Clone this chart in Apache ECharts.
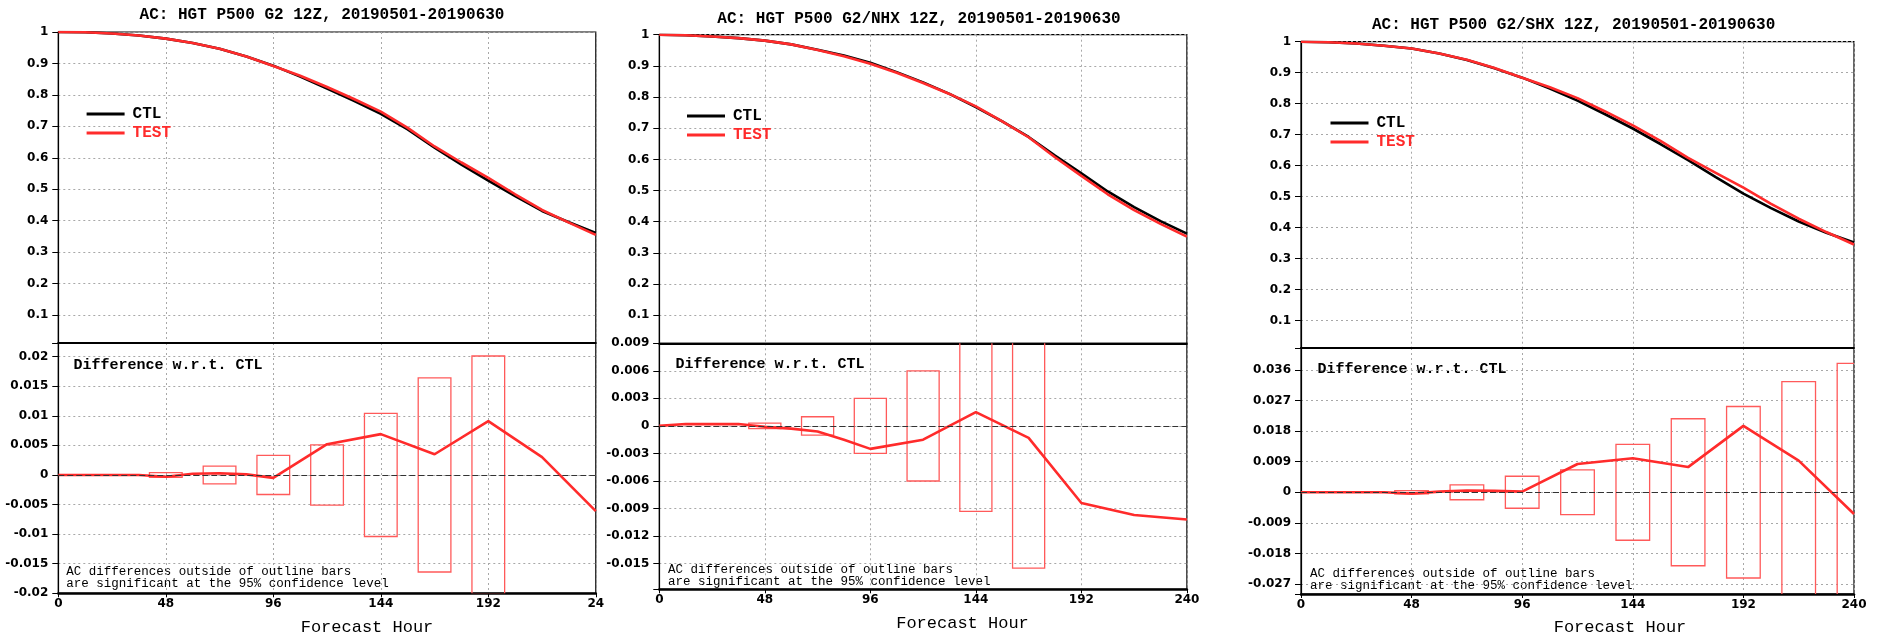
<!DOCTYPE html>
<html>
<head>
<meta charset="utf-8">
<script src="https://cdn.jsdelivr.net/npm/echarts@6/dist/echarts.min.js"></script>
<style>html,body{margin:0;padding:0;background:#fff}#c{width:1878px;height:635px}</style>
</head>
<body>
<div id="c"></div>
<script>
// ---------------- data ----------------
const titleG2  = 'AC: HGT P500 G2 12Z, 20190501-20190630';
const titleNHX = 'AC: HGT P500 G2/NHX 12Z, 20190501-20190630';
const titleSHX = 'AC: HGT P500 G2/SHX 12Z, 20190501-20190630';

const xTickValues = [0, 48, 96, 144, 192, 240];
const xLabelsG2  = ['0', '48', '96', '144', '192', '24'];
const xLabelsNHX = ['0', '48', '96', '144', '192', '240'];
const xLabelsSHX = ['0', '48', '96', '144', '192', '240'];

const acHours = [0, 12, 24, 36, 48, 60, 72, 84, 96, 108, 120, 132, 144, 156, 168, 180, 192, 204, 216, 228, 240];
const ctlG2   = [1.000, 0.999, 0.995, 0.989, 0.979, 0.965, 0.947, 0.922, 0.893, 0.858, 0.820, 0.781, 0.740, 0.690, 0.632, 0.578, 0.527, 0.478, 0.431, 0.395, 0.361];
const testG2  = [1.000, 0.999, 0.995, 0.989, 0.979, 0.965, 0.947, 0.922, 0.892, 0.861, 0.825, 0.787, 0.747, 0.695, 0.636, 0.585, 0.536, 0.484, 0.434, 0.394, 0.355];
const ctlNHX  = [1.000, 0.998, 0.994, 0.989, 0.981, 0.969, 0.952, 0.933, 0.910, 0.880, 0.847, 0.810, 0.768, 0.722, 0.672, 0.612, 0.555, 0.497, 0.447, 0.402, 0.362];
const testNHX = [1.000, 0.998, 0.994, 0.989, 0.981, 0.969, 0.951, 0.931, 0.907, 0.878, 0.845, 0.810, 0.770, 0.722, 0.671, 0.607, 0.547, 0.488, 0.437, 0.393, 0.352];
const ctlSHX  = [1.000, 0.998, 0.994, 0.987, 0.978, 0.962, 0.941, 0.914, 0.884, 0.849, 0.810, 0.766, 0.720, 0.670, 0.618, 0.563, 0.510, 0.463, 0.420, 0.384, 0.352];
const testSHX = [1.000, 0.998, 0.994, 0.987, 0.978, 0.962, 0.942, 0.915, 0.884, 0.853, 0.818, 0.775, 0.730, 0.680, 0.625, 0.577, 0.529, 0.477, 0.429, 0.386, 0.346];

const diffHours = [0, 12, 24, 36, 48, 60, 72, 84, 96, 120, 144, 168, 192, 216, 240];
const diffG2  = [0, 0, 0, 0, -0.0003, 0.0002, 0.0003, 0.0001, -0.0005, 0.0052, 0.0069, 0.0035, 0.0091, 0.0030, -0.0061];
const diffNHX = [0, 0.0002, 0.0002, 0.0002, -0.0001, -0.0003, -0.0006, -0.0015, -0.0025, -0.0015, 0.0015, -0.0013, -0.0084, -0.0097, -0.0102];
const diffSHX = [0, 0, 0, 0, -0.0004, 0.0002, 0.0005, 0.0004, 0.0002, 0.0083, 0.0100, 0.0074, 0.0195, 0.0093, -0.0064];

// significance bars: centre hour and half-height (+/-)
const boxHoursG2  = [48, 72, 96, 120, 144, 168, 192];
const boxHalfG2   = [0.0004, 0.0015, 0.0033, 0.0051, 0.0104, 0.0164, 0.0201];
const boxHoursNHX = [48, 72, 96, 120, 144, 168];
const boxHalfNHX  = [0.0003, 0.0010, 0.0030, 0.0060, 0.0093, 0.0155];
const boxHoursSHX = [48, 72, 96, 120, 144, 168, 192, 216, 240];
const boxHalfSHX  = [0.0005, 0.0022, 0.0047, 0.0066, 0.0141, 0.0216, 0.0252, 0.0325, 0.0379];

const diffLabel = 'Difference w.r.t. CTL';
const note1 = 'AC differences outside of outline bars';
const note2 = 'are significant at the 95% confidence level';
const xName = 'Forecast Hour';

// ---------------- styles / layout ----------------
const RED = '#ff2b2b';
const BOX_RED = '#ff5a5a';
const BOX_HALF_WIDTH = 7.3; // hours
const MONO = '"Liberation Mono", "DejaVu Sans Mono", monospace';
const SANS = '"DejaVu Sans", sans-serif';

const panels = [
  {title: titleG2, ctl: ctlG2, test: testG2, diff: diffG2, boxH: boxHoursG2, boxV: boxHalfG2, xl: xLabelsG2,
   acMin: 0.011, dMin: -0.02, dMax: 0.0223, dStep: 0.005,
   L: 58.3, W: 537.5, topT: 32, topH: 311, botT: 343, botH: 250.3,
   titleX: 322, titleY: 15, legX: 81.6, legY: 101, dlX: 73.5, dlY: 365, nX: 66.3, nY: 571.7, fhX: 367, fhY: 627},
  {title: titleNHX, ctl: ctlNHX, test: testNHX, diff: diffNHX, boxH: boxHoursNHX, boxV: boxHalfNHX, xl: xLabelsNHX,
   acMin: 0.010, dMin: -0.0178, dMax: 0.009, dStep: 0.003,
   L: 659.3, W: 527.6, topT: 34.7, topH: 308.6, botT: 343.3, botH: 246,
   titleX: 919, titleY: 19, legX: 682, legY: 103, dlX: 675.4, dlY: 364, nX: 668, nY: 569.3, fhX: 962.5, fhY: 623},
  {title: titleSHX, ctl: ctlSHX, test: testSHX, diff: diffSHX, boxH: boxHoursSHX, boxV: boxHalfSHX, xl: xLabelsSHX,
   acMin: 0.012, dMin: -0.0299, dMax: 0.0424, dStep: 0.009,
   L: 1301, W: 553, topT: 41.7, topH: 306.3, botT: 348, botH: 246,
   titleX: 1573.6, titleY: 25, legX: 1325.5, legY: 110, dlX: 1317.5, dlY: 369.3, nX: 1310, nY: 573.3, fhX: 1620, fhY: 627}
];

const gridLine = {show: true, lineStyle: {color: '#a8a8a8', width: 1, type: [2, 3]}};
const tickFont = {color: '#000', fontFamily: SANS, fontWeight: 'bold', fontSize: 12};

function fmt(v) { return String(parseFloat(v.toFixed(4))); }
function stepLabel(step) {
  return function (v) {
    const k = v / step;
    return Math.abs(k - Math.round(k)) < 1e-6 ? fmt(v) : '';
  };
}
function pairs(xs, ys) { return xs.map((x, i) => [x, ys[i]]); }

function boxRender(params, api) {
  const h = api.value(0), half = api.value(1);
  const a = api.coord([h - BOX_HALF_WIDTH, half]);
  const b = api.coord([h + BOX_HALF_WIDTH, -half]);
  return {
    type: 'rect',
    shape: {x: a[0], y: a[1], width: b[0] - a[0], height: b[1] - a[1]},
    style: {fill: 'none', stroke: BOX_RED, lineWidth: 1.3}
  };
}

function txt(x, y, text, font, color, align) {
  return {type: 'text', x: x, y: y, silent: true,
    style: {text: text, font: font, fill: color || '#000',
      align: align || 'left', textAlign: align || 'left',
      verticalAlign: 'middle', textVerticalAlign: 'middle'}};
}

const option = {animation: false, backgroundColor: '#fff',
  grid: [], xAxis: [], yAxis: [], series: [], legend: [], graphic: []};

panels.forEach((p, i) => {
  const gT = 2 * i, gB = 2 * i + 1;
  option.grid.push({left: p.L, top: p.topT, width: p.W, height: p.topH, show: true, borderColor: '#000', borderWidth: 1.2});
  option.grid.push({left: p.L, top: p.botT, width: p.W, height: p.botH, show: true, borderColor: '#000', borderWidth: 1.2});

  option.xAxis.push({gridIndex: gT, type: 'value', min: 0, max: 240, interval: 48,
    axisLine: {show: true, onZero: false, lineStyle: {color: '#000', width: 2}},
    axisTick: {show: false}, axisLabel: {show: false}, splitLine: gridLine});
  option.xAxis.push({gridIndex: gB, type: 'value', min: 0, max: 240, interval: 48,
    axisLine: {show: true, onZero: false, lineStyle: {color: '#000', width: 2.5}},
    axisTick: {show: true, length: 4, lineStyle: {color: '#000'}},
    axisLabel: Object.assign({margin: 5, showMinLabel: true, showMaxLabel: true,
      formatter: (v) => { const k = xTickValues.indexOf(v); return k >= 0 ? p.xl[k] : ''; }}, tickFont),
    splitLine: gridLine});

  option.yAxis.push({gridIndex: gT, type: 'value', min: p.acMin, max: 1, minInterval: 0.1, maxInterval: 0.1,
    axisLine: {show: true, lineStyle: {color: '#000', width: 1.2}},
    axisTick: {show: true, length: 6, lineStyle: {color: '#000'}},
    axisLabel: Object.assign({margin: 10, formatter: stepLabel(0.1)}, tickFont),
    splitLine: gridLine});
  option.yAxis.push({gridIndex: gB, type: 'value', min: p.dMin, max: p.dMax, minInterval: p.dStep, maxInterval: p.dStep,
    axisLine: {show: true, lineStyle: {color: '#000', width: 1.2}},
    axisTick: {show: true, length: 6, lineStyle: {color: '#000'}},
    axisLabel: Object.assign({margin: 10, formatter: stepLabel(p.dStep)}, tickFont),
    splitLine: gridLine});

  option.series.push({name: 'CTL', type: 'line', xAxisIndex: gT, yAxisIndex: gT, data: pairs(acHours, p.ctl),
    showSymbol: false, symbol: 'none', color: '#000', lineStyle: {color: '#000', width: 2.6}, z: 3});
  option.series.push({name: 'TEST', type: 'line', xAxisIndex: gT, yAxisIndex: gT, data: pairs(acHours, p.test),
    showSymbol: false, symbol: 'none', color: RED, lineStyle: {color: RED, width: 2.6}, z: 4});

  option.series.push({name: 'bars', type: 'custom', xAxisIndex: gB, yAxisIndex: gB, clip: true,
    data: pairs(p.boxH, p.boxV), renderItem: boxRender, z: 2,
    markLine: {silent: true, symbol: 'none', label: {show: false},
      lineStyle: {color: '#333', width: 1, type: [6, 3]}, data: [{yAxis: 0}]}});
  option.series.push({name: 'TEST - CTL', type: 'line', xAxisIndex: gB, yAxisIndex: gB, data: pairs(diffHours, p.diff),
    showSymbol: false, symbol: 'none', color: RED, lineStyle: {color: RED, width: 2.6}, z: 4});

  option.legend.push({left: p.legX, top: p.legY, orient: 'vertical', icon: 'rect', itemWidth: 38, itemHeight: 3,
    itemGap: 3, selectedMode: false,
    textStyle: {fontFamily: MONO, fontWeight: 'bold', fontSize: 16, padding: [0, 0, 0, 3]},
    data: [{name: 'CTL', textStyle: {color: '#000'}}, {name: 'TEST', textStyle: {color: RED}}]});

  option.graphic.push(txt(p.titleX, p.titleY, p.title, 'bold 16px ' + MONO, '#000', 'center'));
  option.graphic.push(txt(p.dlX, p.dlY, diffLabel, 'bold 15px ' + MONO, '#000', 'left'));
  option.graphic.push(txt(p.nX, p.nY, note1, '12.5px ' + MONO, '#000', 'left'));
  option.graphic.push(txt(p.nX, p.nY + 12.4, note2, '12.5px ' + MONO, '#000', 'left'));
  option.graphic.push(txt(p.fhX, p.fhY, xName, '17px ' + MONO, '#000', 'center'));
});

const chart = echarts.init(document.getElementById('c'), null, {renderer: 'canvas'});
chart.setOption(option);
</script>
</body>
</html>
